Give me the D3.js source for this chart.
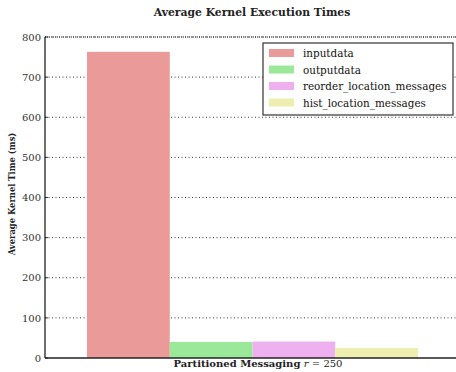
<!DOCTYPE html>
<html>
<head>
<meta charset="utf-8">
<script src="https://cdn.jsdelivr.net/npm/d3@7"></script>
<style>
  html, body { margin: 0; padding: 0; background: #fff; }
  svg { display: block; }
</style>
</head>
<body>
<svg id="chart" width="456" height="372"></svg>
<script>
// Average kernel times (ms) per kernel, for one configuration
const groups = ["Partitioned Messaging"];
const series = ["inputdata", "outputdata", "reorder_location_messages", "hist_location_messages"];
const values = [763, 40, 41, 25];
const colors = ["#e99a99", "#99e999", "#eeb0ee", "#eeeeb0"];
const yTicks = [0, 100, 200, 300, 400, 500, 600, 700, 800];

const FONT = "'DejaVu Serif', 'Liberation Serif', serif";

const svg = d3.select("#chart").style("font-family", FONT);
const margin = { left: 45, top: 37, bottom: 14 };
const plotRight = 460;
const height = 372;

const y = d3.scaleLinear().domain([0, 800]).range([height - margin.bottom, margin.top]);
const x0 = d3.scaleBand().domain(groups).range([margin.left, plotRight])
  .paddingInner(0).paddingOuter(0.127);
const x1 = d3.scaleBand().domain(series).range([0, x0.bandwidth()]).padding(0);

// dotted grid lines
svg.append("g").selectAll("line").data(yTicks.filter(d => d > 0)).join("line")
  .attr("x1", margin.left).attr("x2", plotRight)
  .attr("y1", d => y(d)).attr("y2", d => y(d))
  .attr("stroke", "#000").attr("stroke-width", 0.8)
  .attr("stroke-dasharray", "1,2.5");

// bars
const g = svg.append("g").attr("transform", `translate(${x0(groups[0])},0)`);
g.selectAll("rect").data(series).join("rect")
  .attr("x", d => x1(d))
  .attr("width", x1.bandwidth())
  .attr("y", (d, i) => y(values[i]))
  .attr("height", (d, i) => y(0) - y(values[i]))
  .attr("fill", (d, i) => colors[i]);

// y axis
const yAxis = d3.axisLeft(y).tickValues(yTicks).tickSize(0).tickPadding(4);
const ya = svg.append("g").attr("transform", `translate(${margin.left},0)`).call(yAxis);
ya.attr("font-family", FONT).attr("font-size", 10);
ya.select(".domain").remove();
ya.selectAll("text").attr("fill", "#333");

// inward tick marks
svg.append("g").selectAll("line").data(yTicks).join("line")
  .attr("x1", margin.left).attr("x2", margin.left + 3)
  .attr("y1", d => y(d)).attr("y2", d => y(d))
  .attr("stroke", "#000").attr("stroke-width", 0.8);

// spines
svg.append("line").attr("x1", margin.left).attr("x2", margin.left)
  .attr("y1", y(800)).attr("y2", y(0)).attr("stroke", "#222").attr("stroke-width", 1.3);
svg.append("line").attr("x1", margin.left).attr("x2", plotRight)
  .attr("y1", y(0)).attr("y2", y(0)).attr("stroke", "#222").attr("stroke-width", 1.5);
svg.append("line").attr("x1", margin.left).attr("x2", plotRight)
  .attr("y1", y(800)).attr("y2", y(800)).attr("stroke", "#222").attr("stroke-width", 1.2)
  .attr("stroke-dasharray", "1,1");

// title
svg.append("text").attr("x", 252).attr("y", 16).attr("text-anchor", "middle")
  .attr("font-size", 10.8).attr("font-weight", "bold").attr("fill", "#222")
  .text("Average Kernel Execution Times");

// y label
svg.append("text").attr("transform", `translate(15,194) rotate(-90)`)
  .attr("text-anchor", "middle").attr("font-size", 8.4).attr("font-weight", "bold").attr("fill", "#222")
  .text("Average Kernel Time (ms)");

// x label
const xl = svg.append("text").attr("x", 258).attr("y", 367)
  .attr("text-anchor", "middle").attr("font-size", 10).attr("fill", "#222");
xl.append("tspan").attr("font-weight", "bold").text(groups[0] + " ");
xl.append("tspan").attr("font-style", "italic").text("r");
xl.append("tspan").text(" = 250");

// legend
const lg = svg.append("g").attr("transform", "translate(263,43)");
lg.append("rect").attr("width", 190).attr("height", 72)
  .attr("fill", "#fff").attr("stroke", "#333").attr("stroke-width", 1.2);
const items = lg.selectAll("g").data(series).join("g")
  .attr("transform", (d, i) => `translate(0,${10 + i * 16.5})`);
items.append("rect").attr("x", 6).attr("y", -4).attr("width", 25).attr("height", 8)
  .attr("fill", (d, i) => colors[i]);
items.append("text").attr("x", 40).attr("y", 4).attr("font-size", 10.4).attr("fill", "#111").text(d => d);
</script>
</body>
</html>
